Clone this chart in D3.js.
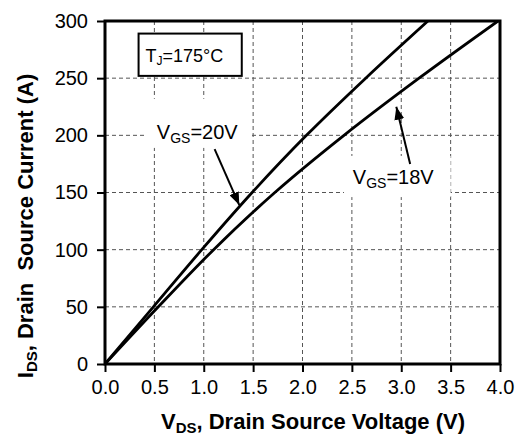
<!DOCTYPE html>
<html>
<head>
<meta charset="utf-8">
<script src="https://cdn.jsdelivr.net/npm/d3@7"></script>
<style>
  body { margin: 0; background: #fff; }
  text { font-family: Arial, "Liberation Sans", sans-serif; }
</style>
</head>
<body>
<div id="chart"></div>
<script>
// curve readings, VDS (V) against IDS (A)
var vds_20v = [0, 0.49, 0.98, 1.49, 2.04, 2.64, 3.27];
var ids_20v = [0, 50, 100, 150, 200, 250, 300];
var vds_18v = [0, 0.54, 1.10, 1.72, 2.42, 3.18, 3.98];
var ids_18v = [0, 50, 100, 150, 200, 250, 300];

var x_ticks = [0, 0.5, 1, 1.5, 2, 2.5, 3, 3.5, 4];
var y_ticks = [0, 50, 100, 150, 200, 250, 300];

var margin = { top: 21, right: 19, bottom: 78, left: 105 },
    width = 519 - margin.left - margin.right,
    height = 442 - margin.top - margin.bottom;

var svg = d3.select("#chart")
    .append("svg")
    .attr("width", 519)
    .attr("height", 442);

var g = svg.append("g")
    .attr("transform", "translate(" + margin.left + "," + margin.top + ")");

var x = d3.scaleLinear().domain([0, 4]).range([0, width]);
var y = d3.scaleLinear().domain([0, 300]).range([height, 0]);

// dashed grid
g.append("g")
    .selectAll("line.gx")
    .data(x_ticks.slice(1, -1))
    .enter().append("line")
    .attr("x1", function (d) { return x(d); })
    .attr("x2", function (d) { return x(d); })
    .attr("y1", 0).attr("y2", height)
    .attr("stroke", "#555").attr("stroke-width", 1)
    .attr("stroke-dasharray", "4,3");

g.append("g")
    .selectAll("line.gy")
    .data(y_ticks.slice(1, -1))
    .enter().append("line")
    .attr("x1", 0).attr("x2", width)
    .attr("y1", function (d) { return y(d); })
    .attr("y2", function (d) { return y(d); })
    .attr("stroke", "#555").attr("stroke-width", 1)
    .attr("stroke-dasharray", "4,3");

// white patches behind the labels
var patches = [
    { x0: 0.42, x1: 1.48, y0: 232, y1: 189 },
    { x0: 2.42, x1: 3.50, y0: 182, y1: 146 }
];
g.selectAll("rect.patch")
    .data(patches)
    .enter().append("rect")
    .attr("x", function (d) { return x(d.x0); })
    .attr("y", function (d) { return y(d.y0); })
    .attr("width", function (d) { return x(d.x1) - x(d.x0); })
    .attr("height", function (d) { return y(d.y1) - y(d.y0); })
    .attr("fill", "#fff");

// axes
var xAxis = g.append("g")
    .attr("transform", "translate(0," + height + ")")
    .call(d3.axisBottom(x).tickValues(x_ticks).tickFormat(d3.format(".1f"))
        .tickSize(8).tickPadding(8));

var yAxis = g.append("g")
    .call(d3.axisLeft(y).tickValues(y_ticks).tickSize(8).tickPadding(9));

[xAxis, yAxis].forEach(function (a) {
    a.select(".domain").remove();
    a.selectAll(".tick line").attr("stroke", "#000").attr("stroke-width", 2);
    a.selectAll(".tick text")
        .attr("fill", "#000")
        .style("font-size", "20px")
        .style("font-family", "Arial, 'Liberation Sans', sans-serif");
});

// curves
var line = d3.line()
    .x(function (d) { return x(d[0]); })
    .y(function (d) { return y(d[1]); })
    .curve(d3.curveCatmullRom.alpha(0.5));

var curves = [d3.zip(vds_20v, ids_20v), d3.zip(vds_18v, ids_18v)];

g.append("clipPath").attr("id", "clip")
    .append("rect").attr("width", width).attr("height", height);

g.selectAll("path.curve")
    .data(curves)
    .enter().append("path")
    .attr("clip-path", "url(#clip)")
    .attr("d", line)
    .attr("fill", "none")
    .attr("stroke", "#000")
    .attr("stroke-width", 2.8);

// frame
g.append("rect")
    .attr("width", width).attr("height", height)
    .attr("fill", "none")
    .attr("stroke", "#000")
    .attr("stroke-width", 3);

// arrows
svg.append("defs").append("marker")
    .attr("id", "head")
    .attr("viewBox", "0 0 13 10")
    .attr("refX", 13).attr("refY", 5)
    .attr("markerWidth", 13).attr("markerHeight", 10)
    .attr("markerUnits", "userSpaceOnUse")
    .attr("orient", "auto")
    .append("path").attr("d", "M0,0 L13,5 L0,10 Z").attr("fill", "#000");

var arrows = [
    { from: [1.11, 188], to: [1.36, 139] },
    { from: [3.09, 175], to: [2.95, 225] }
];
g.selectAll("line.arrow")
    .data(arrows)
    .enter().append("line")
    .attr("x1", function (d) { return x(d.from[0]); })
    .attr("y1", function (d) { return y(d.from[1]); })
    .attr("x2", function (d) { return x(d.to[0]); })
    .attr("y2", function (d) { return y(d.to[1]); })
    .attr("stroke", "#000").attr("stroke-width", 2)
    .attr("marker-end", "url(#head)");

// curve labels
var labels = [
    { v: 0.525, i: 197, pre: "V", sub: "GS", post: "=20V" },
    { v: 2.51, i: 157, pre: "V", sub: "GS", post: "=18V" }
];
labels.forEach(function (d) {
    var t = g.append("text")
        .attr("x", x(d.v)).attr("y", y(d.i))
        .style("font-size", "20px");
    t.append("tspan").text(d.pre);
    t.append("tspan").attr("dy", 4).style("font-size", "14px").text(d.sub);
    t.append("tspan").attr("dy", -4).text(d.post);
});

// temperature box
g.append("rect")
    .attr("x", x(0.34)).attr("y", y(289))
    .attr("width", x(1.385) - x(0.34)).attr("height", y(252) - y(289))
    .attr("fill", "#fff").attr("stroke", "#000").attr("stroke-width", 2);
var tj = g.append("text")
    .attr("x", x(0.41)).attr("y", y(264))
    .style("font-size", "18px");
tj.append("tspan").text("T");
tj.append("tspan").attr("dy", 3).style("font-size", "12px").text("J");
tj.append("tspan").attr("dy", -3).text("=175°C");

// axis titles
var xt = svg.append("text")
    .attr("x", 313).attr("y", 429)
    .attr("text-anchor", "middle")
    .style("font-size", "22px").style("font-weight", "bold");
xt.append("tspan").text("V");
xt.append("tspan").attr("dy", 4).style("font-size", "15px").text("DS");
xt.append("tspan").attr("dy", -4).text(", Drain Source Voltage (V)");

var yt = svg.append("text")
    .attr("transform", "translate(33,226) rotate(-90)")
    .attr("text-anchor", "middle")
    .style("font-size", "22px").style("font-weight", "bold")
    .attr("xml:space", "preserve");
yt.append("tspan").text("I");
yt.append("tspan").attr("dy", 4).style("font-size", "15px").text("DS");
yt.append("tspan").attr("dy", -4).text(", Drain  Source Current (A)");
</script>
</body>
</html>
